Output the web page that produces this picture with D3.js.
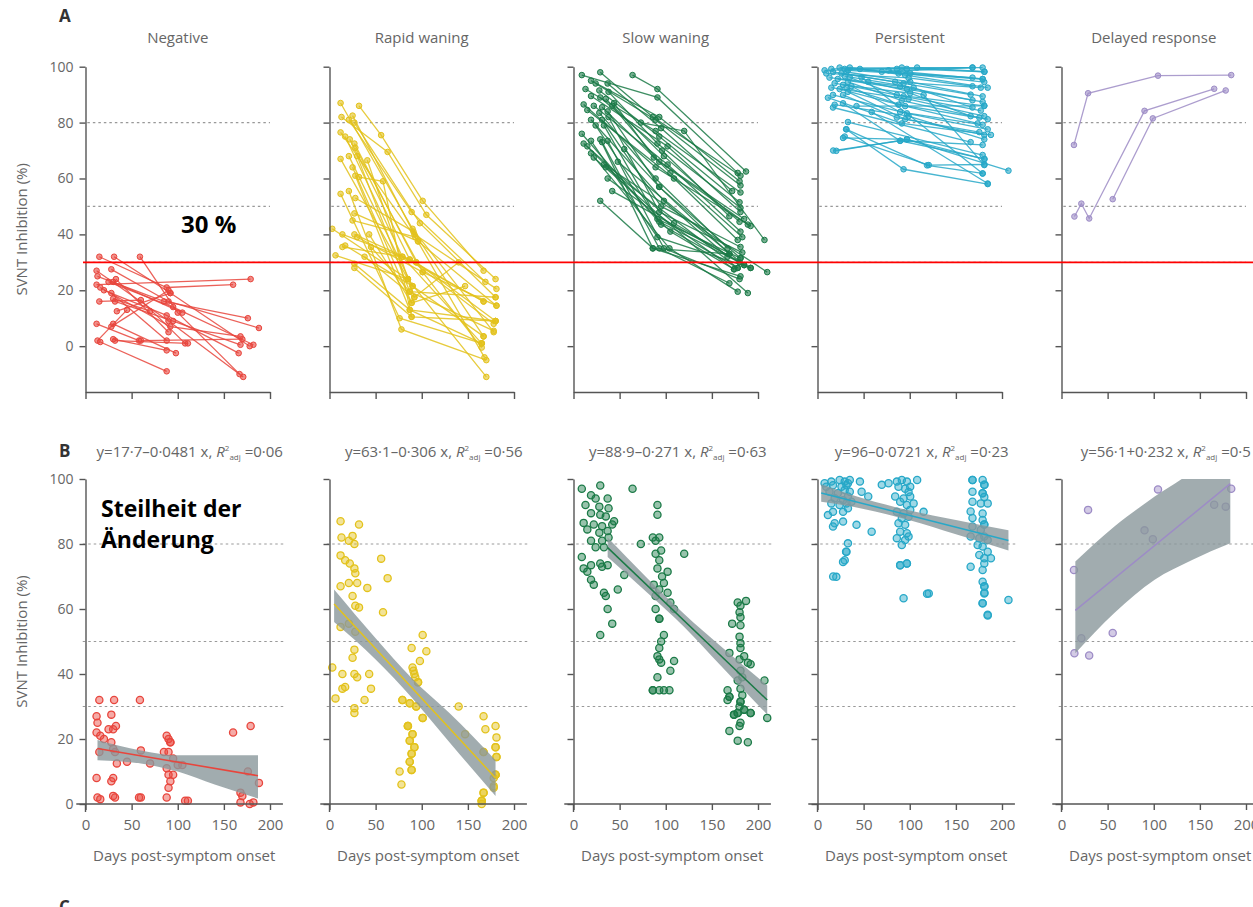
<!DOCTYPE html>
<html>
<head>
<meta charset="utf-8">
<script src="https://cdn.jsdelivr.net/npm/d3@7"></script>
<style>
  html, body { margin: 0; padding: 0; background: #fff; }
  svg { display: block; font-family: "Open Sans", sans-serif; }
</style>
</head>
<body>
<svg id="chart" width="1253" height="907"></svg>
<script>
// ---- data ----
const groups = ["Negative", "Rapid waning", "Slow waning", "Persistent", "Delayed response"];
const colours = ["#e8453c", "#e3c21b", "#1b7a47", "#27a8c8", "#9d8cc6"];

// regression printed above each panel of B
const intercepts = [17.7, 63.1, 88.9, 96, 56.1];
const slopes = [-0.0481, -0.306, -0.271, -0.0721, 0.232];
const r2Labels = ["0·06", "0·56", "0·63", "0·23", "0·5"];

// confidence band of each fit (days, lower, upper)
const bandDays = [
  [13, 60, 100, 140, 187],
  [5, 50, 90, 130, 180],
  [37, 80, 120, 160, 210],
  [4, 50, 100, 150, 207],
  [15, 57, 101, 141, 183]
];
const bandLo = [
  [13.5, 12.5, 10, 6, 1.7],
  [56, 44.5, 32.5, 19, 2.5],
  [76, 65, 54.5, 42.5, 27.5],
  [93, 90.8, 87.3, 83, 78],
  [46.4, 58.7, 69, 75, 80.2]
];
const bandHi = [
  [19.7, 16.5, 15, 15, 15],
  [66, 51, 38.5, 28, 13.5],
  [82, 69.5, 58.5, 48.5, 36.5],
  [98.4, 94, 90.3, 87.4, 84.2],
  [74.6, 85.3, 94.6, 102.5, 117]
];

// individual trajectories: [day, % inhibition]
const negativeTracks = [
  [[15,32],[88,21],[160,22]], [[31,32],[92,19],[178,0]], [[59,32],[100,12],[167,-10]],
  [[12,27],[90,9],[171,-11]], [[28,27.5],[90,16],[188,6.5]], [[13,25],[85,16],[176,10]],
  [[12,22],[179,24]], [[16,21],[92,7],[168,3.5]], [[20,20],[88,11],[166,-2.5]],
  [[25,23],[95,14],[182,0.5]], [[30,23],[105,12]], [[33,24],[90,5]],
  [[15,16],[60,16.5],[108,1]], [[28,19],[88,2]], [[30,17],[70,12.5]],
  [[32,16],[95,9],[168,0.5]], [[12,8],[58,2]], [[28,7],[90,20]],
  [[30,8],[98,-2.5]], [[13,2],[45,13]], [[16,1.5],[88,-9]],
  [[30,2.5],[88,-1.5]], [[32,2],[111,1]], [[34,12.5],[92,19]], [[60,2],[170,2.5]]
];
const rapidTracks = [
  [[12,87],[90,42],[178,5]], [[32,86],[56,75.5],[101,52],[167,27]], [[13,82],[63,69.5],[105,47],[180,24]],
  [[21,81],[89,48],[169,23]], [[25,82.5],[92,40],[181,20.5]], [[27,80],[98,44],[180,17.5]],
  [[12,76.5],[96,37.5],[181,14.5]], [[17,75],[79,32],[165,1]], [[22,74],[87,31],[167,16]],
  [[27,72.5],[94,30],[180,9]], [[28,71],[101,26.5],[165,-0.5]], [[12,67],[85,24],[170,-11]],
  [[21,68],[90,21.5],[167,3.5]], [[30,68],[87,19.5],[178,5.5]], [[41,66.5],[92,17.5],[140,30]],
  [[25,64],[89,15.5],[147,21.5]], [[28,61],[87,13],[180,9]], [[32,60.5],[58,59],[89,10.5]],
  [[12,54.5],[76,10],[165,1]], [[21,55.5],[78,6],[170,-5]], [[28,53],[91,41],[167,3.5]],
  [[27,47.5],[96,37.5]], [[25,45],[93,39],[168,-4]], [[3,42],[85,24]],
  [[14,40],[87,31],[178,8]], [[27,40],[94,30]], [[30,39],[101,26.5],[181,14.5]],
  [[43,40],[89,15.5]], [[14,35.5],[79,32],[167,16]], [[17,36],[90,21.5]],
  [[45,35.5],[87,19.5],[180,17.5]], [[6.5,32.5],[85,24]], [[38,32],[92,17.5]],
  [[27,29.5],[87,13],[165,1]], [[27,28],[89,10.5],[180,9]]
];
const slowTracks = [
  [[64,97],[91,92],[187,62.5]], [[9,97],[91,89],[178,62]], [[29,98],[86,82],[181,61]],
  [[19,95],[93,82],[180,59]], [[24,94],[89,81],[181,57.5]], [[37,94],[95,78],[172,55.5]],
  [[13,92],[89,77],[181,55]], [[28,91.5],[93,75],[180,51.5]], [[38,91],[91,72.5],[181,49.5]],
  [[19,89.5],[102,71.5],[181,48]], [[29,89],[96,70],[169,46.5]], [[35,88.5],[98,68],[180,44.5]],
  [[44,87],[87,67.5],[185,45.5]], [[42,86],[93,66],[189,43.5]], [[11,86.5],[89,64],[192,43]],
  [[22,86],[102,65],[181,41]], [[31,85.5],[105,62],[183,39]], [[15,84.5],[109,60],[178,38]],
  [[28,83.5],[89,60],[167,35]], [[37,84],[93,57],[169,33]], [[19,81],[98,52],[167,32]],
  [[31,81],[95,50],[181,35.5]], [[38,82],[93,48],[183,33.5]], [[24,79],[91,45.5],[181,31.5]],
  [[33,79],[93,44.5],[180,30]], [[9,76],[95,43.5],[178,28]], [[11,72.5],[109,44],[185,29]],
  [[15,71.5],[105,41],[174,27.5]], [[19,73.5],[91,39],[192,28]], [[29,74],[86,35],[181,25]],
  [[31,73],[93,35],[169,22.5]], [[37,73.5],[98,35],[180,24]], [[19,69],[104,35],[178,19.5]],
  [[73,80],[120,77],[207,38]], [[22,67.5],[189,19]], [[33,65],[210,26.5]],
  [[48,66],[185,29]], [[35,64],[178,28]], [[37,60],[174,27.5]],
  [[42,55.5],[192,28]], [[29,52],[86,35],[169,33]], [[55,70.5],[93,57],[181,31.5]]
];
const persistentTracks = [
  [[17,70],[89.6,73.5],[181,67]], [[31,77.6],[93.3,63.3],[184.5,58]], [[29.5,75],[120.6,64.8],[181,65]],
  [[27.7,74.5],[96.9,74],[207,62.8]], [[7.7,98.7],[86,99.2],[168,99.7]], [[15,99.2],[91.4,99.7],[179,99.7]],
  [[24,99.7],[96.9,99.2],[181,98.2]], [[29.5,99.2],[100.5,97.6],[168,96.1]], [[33,98.7],[87.8,97.6],[179,95.6]],
  [[35,99.7],[95,97],[184.5,92.5]], [[9.5,97.6],[98.7,96],[168,93]], [[16.8,98.1],[84.2,94.6],[177,92.5]],
  [[26,97.6],[93.3,94],[166,90]], [[31.4,98.1],[100.5,94.6],[179,89.4]], [[13,96.1],[89.6,93],[168,88]],
  [[22,95.6],[96.9,92],[179,87.4]], [[29.5,96.6],[104.2,92.5],[168,85.4]], [[35,96.1],[86,89.9],[180.8,86]],
  [[18.6,94.1],[93.3,89.4],[177,84.3]], [[27.7,93.5],[100.5,90.5],[166,82.3]], [[33,94.6],[91.4,87.9],[175.4,81.8]],
  [[15,92.5],[98.7,88.4],[180.8,82.3]], [[24,92],[87.8,86.4],[184.5,81.2]], [[31.4,92.5],[95,85.9],[173.6,79.7]],
  [[36.8,93],[89.6,83.8],[179,79.2]], [[16.8,89.9],[96.9,83.3],[184.5,77.6]], [[27.7,89.9],[86,81.8],[175.4,76.6]],
  [[33,91],[95,81.2],[180.8,75.6]], [[11.3,88.9],[91.4,79.7],[188,75.6]], [[18.6,86.4],[98.7,82.3],[180.8,74]],
  [[27.7,86.9],[89.6,73.5],[179,72]], [[16.8,85.4],[166,73]], [[33,80.2],[179,68.4]],
  [[20.4,69.9],[96.9,74],[180.8,66.9]], [[46,99.2],[180.8,94.5]], [[47.8,96.1],[179,61.8]],
  [[55,94.6],[115,89.9],[180.8,64.8]], [[42.3,85.9],[180.8,86]], [[58.7,83.8],[184.5,58.2]],
  [[69.7,98.2],[168,99.7]], [[77,98.7],[179,95.6]], [[108,99.7],[180.8,98.2]],
  [[31.4,77.6],[118.8,64.7],[179,61.8]]
];
const delayedTracks = [
  [[13.5,72],[28.8,90.5],[104.6,96.8],[184,97]],
  [[14,46.4],[21.5,51],[30,45.7],[90,84.2],[165.5,92.1]],
  [[55.5,52.6],[99,81.5],[178,91.5]]
];
const tracks = [negativeTracks, rapidTracks, slowTracks, persistentTracks, delayedTracks];

const refLevels = [80, 50, 30];
const dayTicks = [0, 50, 100, 150, 200];
const pctTicks = [0, 20, 40, 60, 80, 100];

// ---- layout ----
const svg = d3.select("#chart");
const panelLeft = 85.5, panelStep = 244;
const axisCol = "#555", textCol = "#666";

const x = d3.scaleLinear().domain([0, 200]).range([0, 184.5]);
const yA = d3.scaleLinear().domain([-16.4, 100]).range([392, 66.7]);
const yB = d3.scaleLinear().domain([0, 100]).range([804, 479]);

const fmt = v => String(v).replace(".", "·");

function styleAxis(sel) {
  sel.attr("font-family", "Open Sans, sans-serif").attr("font-size", 15);
  sel.selectAll("path, line").attr("stroke", axisCol).attr("stroke-width", 1.4);
  sel.selectAll("text").attr("fill", textCol);
}

groups.forEach((name, i) => {
  const col = colours[i];
  const g = svg.append("g").attr("transform", `translate(${panelLeft + i * panelStep},0)`);

  // ************ A: trajectories ************
  g.append("text")
    .attr("x", x(100)).attr("y", 43)
    .attr("text-anchor", "middle")
    .attr("font-size", 15).attr("fill", textCol)
    .text(name);

  g.selectAll("line.refA").data(refLevels).enter().append("line")
    .attr("class", "refA")
    .attr("x1", x(2)).attr("x2", x(200))
    .attr("y1", d => yA(d)).attr("y2", d => yA(d))
    .attr("stroke", "#999").attr("stroke-width", 1.2).attr("stroke-dasharray", "2.5,3");

  const lineA = d3.line().x(d => x(d[0])).y(d => yA(d[1]));
  g.selectAll("path.track").data(tracks[i]).enter().append("path")
    .attr("class", "track")
    .attr("d", lineA)
    .attr("fill", "none").attr("stroke", col)
    .attr("stroke-width", 1.3).attr("stroke-opacity", 0.85);

  g.selectAll("circle.dotA").data(tracks[i].flat()).enter().append("circle")
    .attr("class", "dotA")
    .attr("cx", d => x(d[0])).attr("cy", d => yA(d[1]))
    .attr("r", 2.8)
    .attr("fill", col).attr("fill-opacity", 0.6)
    .attr("stroke", col).attr("stroke-width", 1);

  const yAxisA = g.append("g")
    .call(d3.axisLeft(yA).tickValues(pctTicks).tickSize(6).tickSizeOuter(0).tickPadding(6)
      .tickFormat(i === 0 ? d3.format("d") : ""));
  styleAxis(yAxisA);
  yAxisA.attr("font-size", 14);

  const xAxisA = g.append("g")
    .attr("transform", `translate(0,${yA(-16.4)})`)
    .call(d3.axisBottom(x).tickValues(dayTicks).tickSize(7).tickSizeOuter(0).tickFormat(""));
  styleAxis(xAxisA);

  // ************ B: pooled fit ************
  const slope = slopes[i];
  const eq = g.append("text")
    .attr("x", x(113)).attr("y", 457)
    .attr("text-anchor", "middle")
    .attr("font-size", 15).attr("fill", textCol);
  eq.append("tspan").text(`y=${fmt(intercepts[i])}${slope < 0 ? "–" : "+"}${fmt(Math.abs(slope))} x, `);
  eq.append("tspan").attr("font-style", "italic").text("R");
  eq.append("tspan").attr("font-size", 8).attr("dy", -6).text("2");
  eq.append("tspan").attr("font-size", 8).attr("dy", 9).text("adj");
  eq.append("tspan").attr("dy", -3).text(" =" + r2Labels[i]);

  g.selectAll("line.refB").data(refLevels).enter().append("line")
    .attr("class", "refB")
    .attr("x1", x(-3)).attr("x2", x(215))
    .attr("y1", d => yB(d)).attr("y2", d => yB(d))
    .attr("stroke", "#999").attr("stroke-width", 1.2).attr("stroke-dasharray", "2.5,3");

  g.selectAll("circle.dotB").data(tracks[i].flat().filter(d => d[1] >= -1)).enter().append("circle")
    .attr("class", "dotB")
    .attr("cx", d => x(d[0])).attr("cy", d => yB(Math.max(d[1], 0)))
    .attr("r", 3.6)
    .attr("fill", col).attr("fill-opacity", 0.45)
    .attr("stroke", col).attr("stroke-width", 1.3);

  const clipId = "clipB" + i;
  g.append("clipPath").attr("id", clipId)
    .append("rect")
    .attr("x", x(-10)).attr("y", yB(100))
    .attr("width", x(230) - x(-10)).attr("height", yB(0) - yB(100));

  const band = bandDays[i].map((d, k) => ({ d: d, lo: bandLo[i][k], hi: bandHi[i][k] }));
  g.append("path")
    .datum(band)
    .attr("clip-path", `url(#${clipId})`)
    .attr("d", d3.area().curve(d3.curveMonotoneX)
      .x(d => x(d.d)).y0(d => yB(d.lo)).y1(d => yB(d.hi)))
    .attr("fill", "#8a979b").attr("fill-opacity", 0.8);

  const ends = d3.extent(bandDays[i]);
  g.append("line")
    .attr("clip-path", `url(#${clipId})`)
    .attr("x1", x(ends[0])).attr("x2", x(ends[1]))
    .attr("y1", yB(intercepts[i] + slope * ends[0]))
    .attr("y2", yB(intercepts[i] + slope * ends[1]))
    .attr("stroke", col).attr("stroke-width", 1.5);

  const yAxisB = g.append("g")
    .call(d3.axisLeft(yB).tickValues(pctTicks).tickSize(6).tickSizeOuter(0).tickPadding(6)
      .tickFormat(i === 0 ? d3.format("d") : ""));
  styleAxis(yAxisB);
  yAxisB.attr("font-size", 14);
  g.append("line")
    .attr("x1", 0).attr("x2", 0).attr("y1", yB(0)).attr("y2", yB(0) + 8)
    .attr("stroke", axisCol).attr("stroke-width", 1.4);

  const xAxisB = g.append("g")
    .attr("transform", `translate(0,${yB(0)})`)
    .call(d3.axisBottom(x).tickValues(dayTicks).tickSize(6).tickPadding(9));
  xAxisB.select(".domain").remove();
  xAxisB.append("line")
    .attr("x1", x(-10)).attr("x2", x(214));
  styleAxis(xAxisB);

  g.append("text")
    .attr("x", x(107)).attr("y", 861)
    .attr("text-anchor", "middle")
    .attr("font-size", 15).attr("fill", textCol)
    .text("Days post-symptom onset");
});

// y-axis titles
[[22, (yA(100) + yA(-16.4)) / 2], [22, (yB(100) + yB(0)) / 2]].forEach(p => {
  svg.append("text")
    .attr("transform", `translate(${p[0]},${p[1]}) rotate(-90)`)
    .attr("text-anchor", "middle").attr("dy", "0.35em")
    .attr("font-size", 15).attr("fill", textCol)
    .text("SVNT Inhibition (%)");
});

// panel letters
[["A", 22], ["B", 457], ["C", 913]].forEach(p => {
  svg.append("text")
    .attr("x", 59).attr("y", p[1])
    .attr("font-size", 17).attr("font-weight", "bold").attr("fill", "#333")
    .text(p[0]);
});

// annotations added on top of the figure
svg.append("line")
  .attr("x1", 83).attr("x2", 1253)
  .attr("y1", yA(30)).attr("y2", yA(30))
  .attr("stroke", "#ff0000").attr("stroke-width", 1.6);

svg.append("text")
  .attr("x", 181).attr("y", 233)
  .attr("font-size", 24).attr("font-weight", "bold").attr("fill", "#000")
  .text("30 %");

const note = svg.append("text")
  .attr("font-size", 23).attr("font-weight", "bold").attr("fill", "#000");
note.append("tspan").attr("x", 101).attr("y", 517).text("Steilheit der");
note.append("tspan").attr("x", 101).attr("y", 548).text("Änderung");
</script>
</body>
</html>
